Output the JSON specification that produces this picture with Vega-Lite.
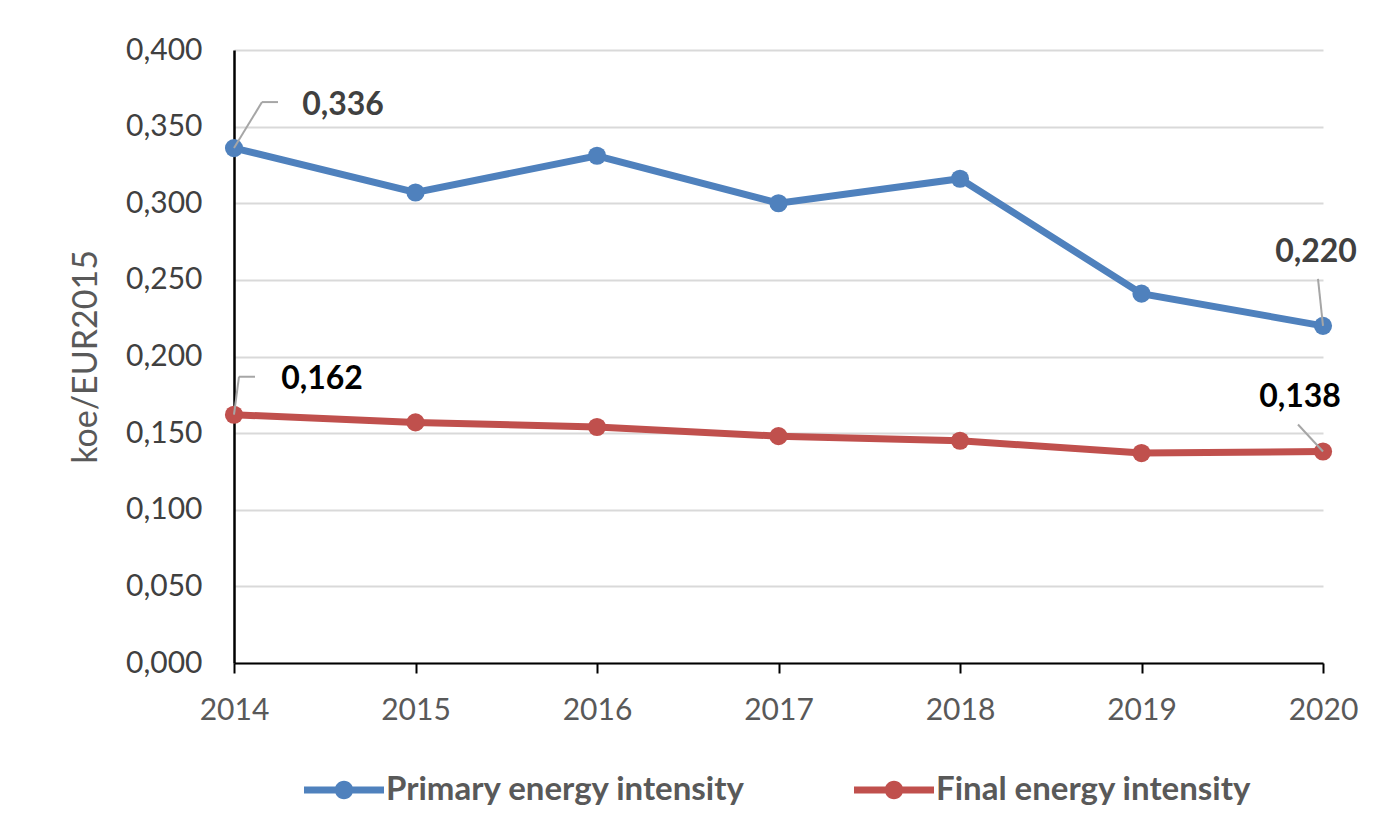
{
  "$schema": "https://vega.github.io/schema/vega-lite/v6.json",
  "autosize": "none",
  "width": 1089,
  "height": 613,
  "padding": {"left": 234, "top": 50, "right": 60, "bottom": 174},
  "background": "white",
  "config": {
    "locale": {"number": {"decimal": ",", "thousands": ".", "grouping": [3], "currency": ["", " €"]}},
    "view": {"stroke": null},
    "font": "Lato"
  },
  "data": {
    "values": [
      {"year": 2014, "series": "Primary energy intensity", "value": 0.336},
      {"year": 2015, "series": "Primary energy intensity", "value": 0.307},
      {"year": 2016, "series": "Primary energy intensity", "value": 0.331},
      {"year": 2017, "series": "Primary energy intensity", "value": 0.300},
      {"year": 2018, "series": "Primary energy intensity", "value": 0.316},
      {"year": 2019, "series": "Primary energy intensity", "value": 0.241},
      {"year": 2020, "series": "Primary energy intensity", "value": 0.220},
      {"year": 2014, "series": "Final energy intensity", "value": 0.162},
      {"year": 2015, "series": "Final energy intensity", "value": 0.157},
      {"year": 2016, "series": "Final energy intensity", "value": 0.154},
      {"year": 2017, "series": "Final energy intensity", "value": 0.148},
      {"year": 2018, "series": "Final energy intensity", "value": 0.145},
      {"year": 2019, "series": "Final energy intensity", "value": 0.137},
      {"year": 2020, "series": "Final energy intensity", "value": 0.138}
    ]
  },
  "encoding": {
    "x": {
      "field": "year", "type": "quantitative",
      "scale": {"domain": [2014, 2020], "nice": false, "zero": false},
      "axis": {
        "title": null, "format": "d", "values": [2014, 2015, 2016, 2017, 2018, 2019, 2020],
        "grid": false, "domainColor": "#000000", "domainWidth": 2,
        "tickColor": "#000000", "tickWidth": 2, "tickSize": 10,
        "labelFlush": false, "labelOverlap": false, "labelBound": false,
        "labelColor": "#595959", "labelFontSize": 30, "labelPadding": 22, "labelFont": "Lato"
      }
    },
    "y": {
      "field": "value", "type": "quantitative",
      "scale": {"domain": [0, 0.4], "nice": false},
      "axis": {
        "title": "koe/EUR2015", "titleColor": "#595959", "titleFontSize": 34, "titleFontWeight": "normal",
        "titlePadding": 22, "titleFont": "Lato",
        "format": ".3f", "values": [0, 0.05, 0.1, 0.15, 0.2, 0.25, 0.3, 0.35, 0.4],
        "grid": true, "gridColor": "#d9d9d9", "gridWidth": 2,
        "domainColor": "#000000", "domainWidth": 2.5, "ticks": false,
        "labelColor": "#404040", "labelFontSize": 30, "labelPadding": 32, "labelFont": "Lato"
      }
    }
  },
  "layer": [
    {
      "mark": {"type": "line", "strokeWidth": 7},
      "encoding": {
        "color": {
          "field": "series", "type": "nominal",
          "scale": {"domain": ["Primary energy intensity", "Final energy intensity"], "range": ["#4f81bd", "#c0504d"]},
          "legend": {
            "title": null, "orient": "none", "legendX": 70, "legendY": 700, "direction": "horizontal",
            "columns": 2, "columnPadding": 108,
            "symbolType": "M -1 -0.09 L 1 -0.09 L 1 0.09 L -1 0.09 Z M -0.23 0 A 0.23 0.23 0 1 1 0.23 0 A 0.23 0.23 0 1 1 -0.23 0 Z",
            "symbolSize": 6400, "symbolStrokeWidth": 0, "symbolFillColor": null,
            "labelFontSize": 33, "labelFontWeight": "bold", "labelColor": "#595959", "labelFont": "Lato",
            "labelOffset": 2, "labelLimit": 600
          }
        }
      }
    },
    {
      "mark": {"type": "point", "filled": true, "size": 330, "opacity": 1},
      "encoding": {
        "color": {"field": "series", "type": "nominal", "legend": null}
      }
    },
    {
      "transform": [{"filter": "datum.series == 'Primary energy intensity' && datum.year == 2014"}],
      "mark": {"type": "rule", "color": "#a6a6a6", "strokeWidth": 2, "x2Offset": 28, "y2Offset": -46},
      "encoding": {"x2": {"field": "year"}, "y2": {"field": "value"}}
    },
    {
      "transform": [{"filter": "datum.series == 'Primary energy intensity' && datum.year == 2014"}],
      "mark": {"type": "rule", "color": "#a6a6a6", "strokeWidth": 2, "xOffset": 28, "yOffset": -46, "x2Offset": 44, "y2Offset": -46},
      "encoding": {"x2": {"field": "year"}, "y2": {"field": "value"}}
    },
    {
      "transform": [{"filter": "datum.series == 'Primary energy intensity' && datum.year == 2020"}],
      "mark": {"type": "rule", "color": "#a6a6a6", "strokeWidth": 2, "x2Offset": -5, "y2Offset": -47},
      "encoding": {"x2": {"field": "year"}, "y2": {"field": "value"}}
    },
    {
      "transform": [{"filter": "datum.series == 'Final energy intensity' && datum.year == 2014"}],
      "mark": {"type": "rule", "color": "#a6a6a6", "strokeWidth": 2, "x2Offset": 5, "y2Offset": -38},
      "encoding": {"x2": {"field": "year"}, "y2": {"field": "value"}}
    },
    {
      "transform": [{"filter": "datum.series == 'Final energy intensity' && datum.year == 2014"}],
      "mark": {"type": "rule", "color": "#a6a6a6", "strokeWidth": 2, "xOffset": 5, "yOffset": -38, "x2Offset": 21, "y2Offset": -38},
      "encoding": {"x2": {"field": "year"}, "y2": {"field": "value"}}
    },
    {
      "transform": [{"filter": "datum.series == 'Final energy intensity' && datum.year == 2020"}],
      "mark": {"type": "rule", "color": "#a6a6a6", "strokeWidth": 2, "x2Offset": -25, "y2Offset": -27},
      "encoding": {"x2": {"field": "year"}, "y2": {"field": "value"}}
    },
    {
      "transform": [{"filter": "datum.series == 'Primary energy intensity' && datum.year == 2014"}],
      "mark": {"type": "text", "fontSize": 32, "fontWeight": "bold", "color": "#404040", "dx": 109, "dy": -43, "align": "center", "baseline": "middle"},
      "encoding": {"text": {"field": "value", "type": "quantitative", "format": ".3f"}}
    },
    {
      "transform": [{"filter": "datum.series == 'Primary energy intensity' && datum.year == 2020"}],
      "mark": {"type": "text", "fontSize": 32, "fontWeight": "bold", "color": "#404040", "dx": -7, "dy": -74, "align": "center", "baseline": "middle"},
      "encoding": {"text": {"field": "value", "type": "quantitative", "format": ".3f"}}
    },
    {
      "transform": [{"filter": "datum.series == 'Final energy intensity' && datum.year == 2014"}],
      "mark": {"type": "text", "fontSize": 32, "fontWeight": "bold", "color": "#000000", "dx": 88, "dy": -36, "align": "center", "baseline": "middle"},
      "encoding": {"text": {"field": "value", "type": "quantitative", "format": ".3f"}}
    },
    {
      "transform": [{"filter": "datum.series == 'Final energy intensity' && datum.year == 2020"}],
      "mark": {"type": "text", "fontSize": 32, "fontWeight": "bold", "color": "#000000", "dx": -23, "dy": -55, "align": "center", "baseline": "middle"},
      "encoding": {"text": {"field": "value", "type": "quantitative", "format": ".3f"}}
    }
  ]
}
